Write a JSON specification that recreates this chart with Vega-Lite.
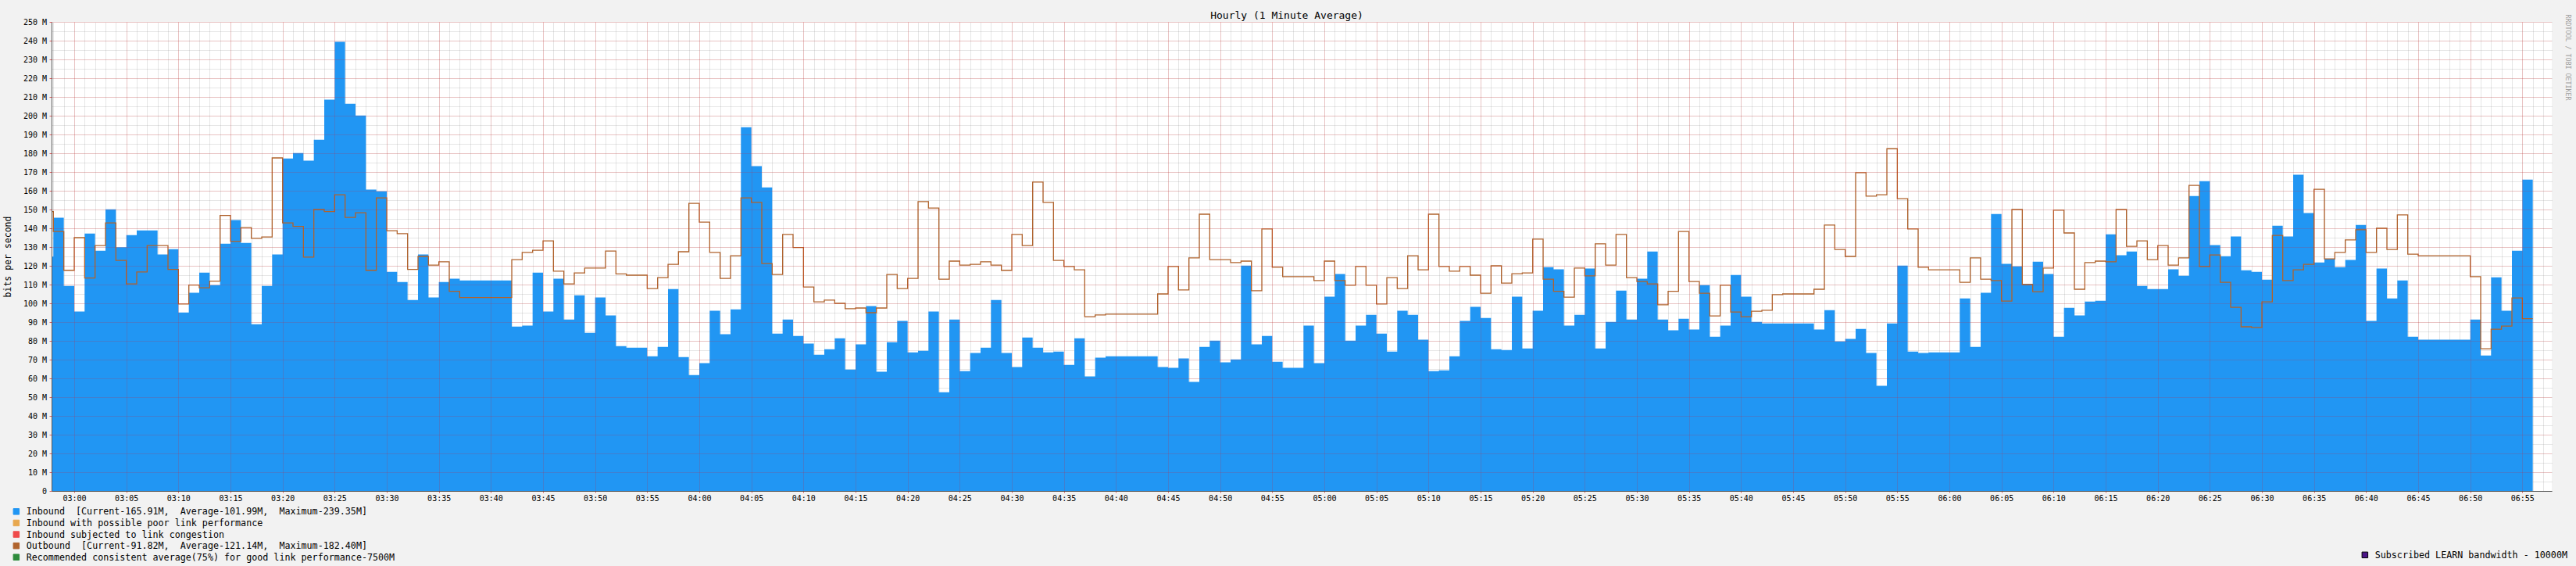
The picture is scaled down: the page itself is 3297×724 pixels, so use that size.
{
 "$schema": "https://vega.github.io/schema/vega-lite/v6.json",
 "width": 3200, "height": 600,
 "autosize": {"type": "none"},
 "padding": {"left": 66, "top": 28, "right": 31, "bottom": 96},
 "background": "#f2f2f2",
 "config": {"view": {"fill": "#ffffff", "stroke": null}, "font": "DejaVu Sans Mono"},
 "title": {"text": "Hourly (1 Minute Average)", "font": "DejaVu Sans Mono", "fontSize": 13, "fontWeight": "normal", "color": "#000000", "anchor": "middle", "frame": "group", "offset": 5, "baseline": "alphabetic", "dx": -19, "dy": 24},
 "data": {"values": [
  {"t":"2024-01-01T02:57","i":124.9,"o":148.9},
  {"t":"2024-01-01T02:58","i":145.6,"o":138.3},
  {"t":"2024-01-01T02:59","i":109.3,"o":117.6},
  {"t":"2024-01-01T03:00","i":95.6,"o":135.0},
  {"t":"2024-01-01T03:01","i":137.2,"o":113.5},
  {"t":"2024-01-01T03:02","i":128.0,"o":130.8},
  {"t":"2024-01-01T03:03","i":150.1,"o":142.9},
  {"t":"2024-01-01T03:04","i":129.9,"o":122.9},
  {"t":"2024-01-01T03:05","i":136.4,"o":110.4},
  {"t":"2024-01-01T03:06","i":138.9,"o":116.7},
  {"t":"2024-01-01T03:07","i":138.9,"o":130.8},
  {"t":"2024-01-01T03:08","i":126.0,"o":130.8},
  {"t":"2024-01-01T03:09","i":128.9,"o":118.1},
  {"t":"2024-01-01T03:10","i":95.1,"o":99.6},
  {"t":"2024-01-01T03:11","i":105.6,"o":109.7},
  {"t":"2024-01-01T03:12","i":116.4,"o":108.3},
  {"t":"2024-01-01T03:13","i":109.7,"o":111.8},
  {"t":"2024-01-01T03:14","i":131.8,"o":146.8},
  {"t":"2024-01-01T03:15","i":144.4,"o":133.1},
  {"t":"2024-01-01T03:16","i":132.2,"o":140.4},
  {"t":"2024-01-01T03:17","i":88.9,"o":134.6},
  {"t":"2024-01-01T03:18","i":109.3,"o":135.4},
  {"t":"2024-01-01T03:19","i":126.0,"o":177.5},
  {"t":"2024-01-01T03:20","i":177.2,"o":142.9},
  {"t":"2024-01-01T03:21","i":180.1,"o":141.0},
  {"t":"2024-01-01T03:22","i":176.0,"o":124.6},
  {"t":"2024-01-01T03:23","i":187.2,"o":150.0},
  {"t":"2024-01-01T03:24","i":208.5,"o":148.9},
  {"t":"2024-01-01T03:25","i":239.35,"o":157.9},
  {"t":"2024-01-01T03:26","i":206.4,"o":145.8},
  {"t":"2024-01-01T03:27","i":200.1,"o":148.3},
  {"t":"2024-01-01T03:28","i":160.6,"o":117.6},
  {"t":"2024-01-01T03:29","i":159.7,"o":156.2},
  {"t":"2024-01-01T03:30","i":116.8,"o":138.7},
  {"t":"2024-01-01T03:31","i":111.4,"o":137.1},
  {"t":"2024-01-01T03:32","i":101.8,"o":118.1},
  {"t":"2024-01-01T03:33","i":126.0,"o":125.0},
  {"t":"2024-01-01T03:34","i":103.1,"o":120.4},
  {"t":"2024-01-01T03:35","i":111.4,"o":122.1},
  {"t":"2024-01-01T03:36","i":113.1,"o":106.4},
  {"t":"2024-01-01T03:37","i":112.2,"o":103.1},
  {"t":"2024-01-01T03:38","i":112.2,"o":103.1},
  {"t":"2024-01-01T03:39","i":112.2,"o":103.1},
  {"t":"2024-01-01T03:40","i":112.2,"o":103.1},
  {"t":"2024-01-01T03:41","i":112.2,"o":103.1},
  {"t":"2024-01-01T03:42","i":87.6,"o":123.3},
  {"t":"2024-01-01T03:43","i":88.1,"o":127.1},
  {"t":"2024-01-01T03:44","i":116.4,"o":128.3},
  {"t":"2024-01-01T03:45","i":95.6,"o":133.3},
  {"t":"2024-01-01T03:46","i":113.1,"o":117.1},
  {"t":"2024-01-01T03:47","i":91.4,"o":110.4},
  {"t":"2024-01-01T03:48","i":104.3,"o":116.2},
  {"t":"2024-01-01T03:49","i":84.3,"o":118.8},
  {"t":"2024-01-01T03:50","i":103.1,"o":118.8},
  {"t":"2024-01-01T03:51","i":93.5,"o":127.9},
  {"t":"2024-01-01T03:52","i":77.2,"o":115.7},
  {"t":"2024-01-01T03:53","i":76.4,"o":115.0},
  {"t":"2024-01-01T03:54","i":76.4,"o":115.0},
  {"t":"2024-01-01T03:55","i":71.8,"o":107.9},
  {"t":"2024-01-01T03:56","i":76.8,"o":113.7},
  {"t":"2024-01-01T03:57","i":107.6,"o":120.8},
  {"t":"2024-01-01T03:58","i":71.4,"o":127.5},
  {"t":"2024-01-01T03:59","i":61.8,"o":153.3},
  {"t":"2024-01-01T04:00","i":68.1,"o":143.3},
  {"t":"2024-01-01T04:01","i":96.0,"o":127.1},
  {"t":"2024-01-01T04:02","i":83.5,"o":113.3},
  {"t":"2024-01-01T04:03","i":96.8,"o":125.4},
  {"t":"2024-01-01T04:04","i":193.9,"o":156.2},
  {"t":"2024-01-01T04:05","i":173.1,"o":153.8},
  {"t":"2024-01-01T04:06","i":161.8,"o":121.2},
  {"t":"2024-01-01T04:07","i":83.9,"o":115.4},
  {"t":"2024-01-01T04:08","i":91.4,"o":136.7},
  {"t":"2024-01-01T04:09","i":82.6,"o":129.7},
  {"t":"2024-01-01T04:10","i":78.5,"o":108.7},
  {"t":"2024-01-01T04:11","i":72.6,"o":100.8},
  {"t":"2024-01-01T04:12","i":75.5,"o":101.7},
  {"t":"2024-01-01T04:13","i":81.4,"o":100.0},
  {"t":"2024-01-01T04:14","i":64.7,"o":97.1},
  {"t":"2024-01-01T04:15","i":78.1,"o":97.5},
  {"t":"2024-01-01T04:16","i":98.5,"o":95.0},
  {"t":"2024-01-01T04:17","i":63.5,"o":97.5},
  {"t":"2024-01-01T04:18","i":79.3,"o":115.4},
  {"t":"2024-01-01T04:19","i":90.6,"o":107.9},
  {"t":"2024-01-01T04:20","i":73.9,"o":113.3},
  {"t":"2024-01-01T04:21","i":74.7,"o":154.2},
  {"t":"2024-01-01T04:22","i":95.6,"o":150.8},
  {"t":"2024-01-01T04:23","i":52.6,"o":112.9},
  {"t":"2024-01-01T04:24","i":91.4,"o":122.5},
  {"t":"2024-01-01T04:25","i":63.9,"o":120.4},
  {"t":"2024-01-01T04:26","i":73.5,"o":120.8},
  {"t":"2024-01-01T04:27","i":76.4,"o":122.1},
  {"t":"2024-01-01T04:28","i":101.8,"o":120.4},
  {"t":"2024-01-01T04:29","i":73.5,"o":117.6},
  {"t":"2024-01-01T04:30","i":66.0,"o":136.7},
  {"t":"2024-01-01T04:31","i":81.8,"o":130.8},
  {"t":"2024-01-01T04:32","i":76.4,"o":164.6},
  {"t":"2024-01-01T04:33","i":73.9,"o":153.8},
  {"t":"2024-01-01T04:34","i":74.3,"o":122.9},
  {"t":"2024-01-01T04:35","i":67.2,"o":119.6},
  {"t":"2024-01-01T04:36","i":81.4,"o":117.9},
  {"t":"2024-01-01T04:37","i":61.0,"o":92.9},
  {"t":"2024-01-01T04:38","i":71.0,"o":93.8},
  {"t":"2024-01-01T04:39","i":71.8,"o":94.2},
  {"t":"2024-01-01T04:40","i":71.8,"o":94.2},
  {"t":"2024-01-01T04:41","i":71.8,"o":94.2},
  {"t":"2024-01-01T04:42","i":71.8,"o":94.2},
  {"t":"2024-01-01T04:43","i":71.8,"o":94.2},
  {"t":"2024-01-01T04:44","i":66.0,"o":105.0},
  {"t":"2024-01-01T04:45","i":65.6,"o":119.6},
  {"t":"2024-01-01T04:46","i":70.6,"o":107.1},
  {"t":"2024-01-01T04:47","i":58.1,"o":124.2},
  {"t":"2024-01-01T04:48","i":76.8,"o":147.5},
  {"t":"2024-01-01T04:49","i":80.1,"o":123.3},
  {"t":"2024-01-01T04:50","i":68.5,"o":123.3},
  {"t":"2024-01-01T04:51","i":70.1,"o":121.7},
  {"t":"2024-01-01T04:52","i":120.1,"o":122.5},
  {"t":"2024-01-01T04:53","i":78.1,"o":106.7},
  {"t":"2024-01-01T04:54","i":82.6,"o":139.6},
  {"t":"2024-01-01T04:55","i":68.9,"o":119.2},
  {"t":"2024-01-01T04:56","i":65.6,"o":114.2},
  {"t":"2024-01-01T04:57","i":65.6,"o":114.2},
  {"t":"2024-01-01T04:58","i":88.1,"o":114.2},
  {"t":"2024-01-01T04:59","i":68.1,"o":112.1},
  {"t":"2024-01-01T05:00","i":103.5,"o":122.5},
  {"t":"2024-01-01T05:01","i":115.6,"o":112.1},
  {"t":"2024-01-01T05:02","i":80.1,"o":109.6},
  {"t":"2024-01-01T05:03","i":88.1,"o":119.6},
  {"t":"2024-01-01T05:04","i":93.9,"o":109.6},
  {"t":"2024-01-01T05:05","i":83.9,"o":99.6},
  {"t":"2024-01-01T05:06","i":74.3,"o":113.7},
  {"t":"2024-01-01T05:07","i":96.0,"o":107.9},
  {"t":"2024-01-01T05:08","i":93.9,"o":125.4},
  {"t":"2024-01-01T05:09","i":80.6,"o":117.9},
  {"t":"2024-01-01T05:10","i":63.9,"o":147.5},
  {"t":"2024-01-01T05:11","i":64.3,"o":119.6},
  {"t":"2024-01-01T05:12","i":71.8,"o":117.1},
  {"t":"2024-01-01T05:13","i":90.6,"o":119.6},
  {"t":"2024-01-01T05:14","i":98.1,"o":115.0},
  {"t":"2024-01-01T05:15","i":92.2,"o":105.4},
  {"t":"2024-01-01T05:16","i":75.5,"o":120.0},
  {"t":"2024-01-01T05:17","i":75.1,"o":110.8},
  {"t":"2024-01-01T05:18","i":103.5,"o":115.8},
  {"t":"2024-01-01T05:19","i":75.9,"o":116.2},
  {"t":"2024-01-01T05:20","i":96.0,"o":134.2},
  {"t":"2024-01-01T05:21","i":119.3,"o":112.9},
  {"t":"2024-01-01T05:22","i":118.1,"o":106.4},
  {"t":"2024-01-01T05:23","i":88.1,"o":103.3},
  {"t":"2024-01-01T05:24","i":93.9,"o":118.8},
  {"t":"2024-01-01T05:25","i":118.5,"o":114.6},
  {"t":"2024-01-01T05:26","i":75.9,"o":131.7},
  {"t":"2024-01-01T05:27","i":90.1,"o":120.4},
  {"t":"2024-01-01T05:28","i":106.8,"o":136.7},
  {"t":"2024-01-01T05:29","i":91.4,"o":113.7},
  {"t":"2024-01-01T05:30","i":113.1,"o":111.6},
  {"t":"2024-01-01T05:31","i":127.6,"o":110.4},
  {"t":"2024-01-01T05:32","i":91.4,"o":99.2},
  {"t":"2024-01-01T05:33","i":85.6,"o":106.4},
  {"t":"2024-01-01T05:34","i":91.8,"o":138.3},
  {"t":"2024-01-01T05:35","i":86.0,"o":111.6},
  {"t":"2024-01-01T05:36","i":109.7,"o":105.4},
  {"t":"2024-01-01T05:37","i":82.2,"o":93.3},
  {"t":"2024-01-01T05:38","i":88.1,"o":109.6},
  {"t":"2024-01-01T05:39","i":115.1,"o":95.4},
  {"t":"2024-01-01T05:40","i":103.5,"o":92.9},
  {"t":"2024-01-01T05:41","i":90.1,"o":95.8},
  {"t":"2024-01-01T05:42","i":89.3,"o":96.3},
  {"t":"2024-01-01T05:43","i":89.3,"o":104.6},
  {"t":"2024-01-01T05:44","i":89.3,"o":105.0},
  {"t":"2024-01-01T05:45","i":89.3,"o":105.0},
  {"t":"2024-01-01T05:46","i":89.3,"o":105.0},
  {"t":"2024-01-01T05:47","i":86.0,"o":107.5},
  {"t":"2024-01-01T05:48","i":96.4,"o":141.7},
  {"t":"2024-01-01T05:49","i":79.7,"o":128.7},
  {"t":"2024-01-01T05:50","i":81.0,"o":125.0},
  {"t":"2024-01-01T05:51","i":86.4,"o":169.6},
  {"t":"2024-01-01T05:52","i":73.5,"o":157.1},
  {"t":"2024-01-01T05:53","i":56.0,"o":157.9},
  {"t":"2024-01-01T05:54","i":89.3,"o":182.4},
  {"t":"2024-01-01T05:55","i":120.1,"o":155.8},
  {"t":"2024-01-01T05:56","i":74.3,"o":139.6},
  {"t":"2024-01-01T05:57","i":73.5,"o":119.2},
  {"t":"2024-01-01T05:58","i":73.9,"o":117.9},
  {"t":"2024-01-01T05:59","i":73.9,"o":117.9},
  {"t":"2024-01-01T06:00","i":73.9,"o":117.9},
  {"t":"2024-01-01T06:01","i":102.6,"o":111.2},
  {"t":"2024-01-01T06:02","i":76.8,"o":124.2},
  {"t":"2024-01-01T06:03","i":105.6,"o":112.9},
  {"t":"2024-01-01T06:04","i":147.6,"o":112.1},
  {"t":"2024-01-01T06:05","i":121.0,"o":101.2},
  {"t":"2024-01-01T06:06","i":119.7,"o":150.0},
  {"t":"2024-01-01T06:07","i":110.4,"o":110.0},
  {"t":"2024-01-01T06:08","i":122.2,"o":106.2},
  {"t":"2024-01-01T06:09","i":115.6,"o":118.8},
  {"t":"2024-01-01T06:10","i":82.2,"o":149.6},
  {"t":"2024-01-01T06:11","i":97.6,"o":137.5},
  {"t":"2024-01-01T06:12","i":93.5,"o":107.5},
  {"t":"2024-01-01T06:13","i":100.9,"o":121.7},
  {"t":"2024-01-01T06:14","i":101.4,"o":122.5},
  {"t":"2024-01-01T06:15","i":136.8,"o":122.1},
  {"t":"2024-01-01T06:16","i":125.6,"o":150.0},
  {"t":"2024-01-01T06:17","i":127.6,"o":130.4},
  {"t":"2024-01-01T06:18","i":109.3,"o":133.3},
  {"t":"2024-01-01T06:19","i":107.6,"o":123.3},
  {"t":"2024-01-01T06:20","i":107.6,"o":130.8},
  {"t":"2024-01-01T06:21","i":118.1,"o":120.4},
  {"t":"2024-01-01T06:22","i":114.7,"o":124.2},
  {"t":"2024-01-01T06:23","i":157.2,"o":162.9},
  {"t":"2024-01-01T06:24","i":165.1,"o":119.6},
  {"t":"2024-01-01T06:25","i":131.0,"o":125.8},
  {"t":"2024-01-01T06:26","i":125.1,"o":111.2},
  {"t":"2024-01-01T06:27","i":135.6,"o":97.9},
  {"t":"2024-01-01T06:28","i":117.6,"o":87.5},
  {"t":"2024-01-01T06:29","i":116.8,"o":87.1},
  {"t":"2024-01-01T06:30","i":112.6,"o":100.8},
  {"t":"2024-01-01T06:31","i":141.4,"o":136.2},
  {"t":"2024-01-01T06:32","i":135.6,"o":112.1},
  {"t":"2024-01-01T06:33","i":168.5,"o":117.9},
  {"t":"2024-01-01T06:34","i":148.1,"o":120.8},
  {"t":"2024-01-01T06:35","i":121.8,"o":160.8},
  {"t":"2024-01-01T06:36","i":123.7,"o":123.7},
  {"t":"2024-01-01T06:37","i":119.3,"o":127.1},
  {"t":"2024-01-01T06:38","i":123.1,"o":133.8},
  {"t":"2024-01-01T06:39","i":141.8,"o":139.2},
  {"t":"2024-01-01T06:40","i":90.6,"o":127.1},
  {"t":"2024-01-01T06:41","i":118.5,"o":140.0},
  {"t":"2024-01-01T06:42","i":102.6,"o":128.7},
  {"t":"2024-01-01T06:43","i":112.2,"o":147.1},
  {"t":"2024-01-01T06:44","i":82.2,"o":126.2},
  {"t":"2024-01-01T06:45","i":80.6,"o":125.4},
  {"t":"2024-01-01T06:46","i":80.6,"o":125.4},
  {"t":"2024-01-01T06:47","i":80.6,"o":125.4},
  {"t":"2024-01-01T06:48","i":80.6,"o":125.4},
  {"t":"2024-01-01T06:49","i":80.6,"o":125.4},
  {"t":"2024-01-01T06:50","i":91.4,"o":114.2},
  {"t":"2024-01-01T06:51","i":72.2,"o":75.8},
  {"t":"2024-01-01T06:52","i":113.9,"o":86.2},
  {"t":"2024-01-01T06:53","i":96.0,"o":87.9},
  {"t":"2024-01-01T06:54","i":128.0,"o":102.9},
  {"t":"2024-01-01T06:55","i":165.91,"o":91.82},
  {"t":"2024-01-01T06:56","i":165.91,"o":91.82}
 ]},
 "layer": [
  {"layer": [
   {"mark": {"type": "area", "interpolate": "step-after", "clip": true, "opacity": 1},
    "encoding": {
     "x": {"field": "t", "type": "temporal", "title": null,
      "scale": {"domain": [{"year": 2024, "month": 1, "date": 1, "hours": 2, "minutes": 57, "seconds": 49, "milliseconds": 500}, {"year": 2024, "month": 1, "date": 1, "hours": 6, "minutes": 57, "seconds": 49, "milliseconds": 500}]},
      "axis": {"format": "%H:%M", "tickCount": 48, "zindex": 2, "labelOverlap": false, "labelFlush": false,
       "labelFont": "DejaVu Sans Mono", "labelFontSize": 10, "labelColor": "#000000", "labelPadding": 2,
       "grid": true, "gridDash": [1, 1], "gridColor": "#ff0000", "gridOpacity": 0.3,
       "tickSize": 2, "tickColor": "#e06060", "domainColor": "#555555"}},
     "y": {"field": "i", "type": "quantitative", "title": "bits per second",
      "scale": {"domain": [0, 250], "nice": false},
      "axis": {"values": [0,10,20,30,40,50,60,70,80,90,100,110,120,130,140,150,160,170,180,190,200,210,220,230,240,250],
       "tickCount": 60, "zindex": 2, "labelOverlap": false, "labelBound": false, "labelFlush": false,
       "labelExpr": "datum.value == 0 ? '0' : datum.value + ' M'",
       "labelFont": "DejaVu Sans Mono", "labelFontSize": 10, "labelColor": "#000000", "labelPadding": 3.5,
       "grid": true, "gridDash": [1, 1], "gridColor": "#ff0000", "gridOpacity": 0.3,
       "tickSize": 3, "tickColor": "#e06060", "domainColor": "#555555",
       "titleFont": "DejaVu Sans Mono", "titleFontSize": 11.5, "titleFontWeight": "normal", "titleColor": "#000000", "titlePadding": 14}},
     "color": {"datum": "Inbound\u00a0\u00a0[Current-165.91M,\u00a0\u00a0Average-101.99M,\u00a0\u00a0Maximum-239.35M]", "type": "nominal",
      "scale": {"domain": [
        "Inbound\u00a0\u00a0[Current-165.91M,\u00a0\u00a0Average-101.99M,\u00a0\u00a0Maximum-239.35M]",
        "Inbound with possible poor link performance",
        "Inbound subjected to link congestion",
        "Outbound\u00a0\u00a0[Current-91.82M,\u00a0\u00a0Average-121.14M,\u00a0\u00a0Maximum-182.40M]",
        "Recommended consistent average(75%) for good link performance-7500M"],
       "range": ["#2196f3", "#e8a84f", "#ef4b4b", "#b0632d", "#2e8b3c"]},
      "legend": {"orient": "none", "legendX": -51, "legendY": 620.5, "direction": "vertical", "title": null,
       "symbolType": "square", "symbolSize": 56, "symbolStrokeWidth": 1, "symbolStrokeColor": "#000000",
       "labelFont": "DejaVu Sans Mono", "labelFontSize": 11.7, "labelColor": "#000000", "labelOffset": 7, "labelLimit": 2000,
       "rowPadding": 1.6, "padding": 0, "symbolOffset": 0}}
    }},
   {"mark": {"type": "line", "interpolate": "step-after", "clip": true, "strokeWidth": 1.3},
    "encoding": {
     "x": {"field": "t", "type": "temporal", "title": null},
     "y": {"field": "o", "type": "quantitative", "title": "bits per second"},
     "color": {"datum": "Outbound\u00a0\u00a0[Current-91.82M,\u00a0\u00a0Average-121.14M,\u00a0\u00a0Maximum-182.40M]", "type": "nominal"}
    }}
  ]},
  {"data": {"values": [{"v": 10000}]},
   "mark": {"type": "rect", "clip": true},
   "encoding": {
    "x": {"datum": {"year": 2024, "month": 1, "date": 1, "hours": 3, "minutes": 0}, "type": "temporal", "title": null,
     "scale": {"domain": [{"year": 2024, "month": 1, "date": 1, "hours": 2, "minutes": 57, "seconds": 49, "milliseconds": 500}, {"year": 2024, "month": 1, "date": 1, "hours": 6, "minutes": 57, "seconds": 49, "milliseconds": 500}]},
     "axis": {"orient": "top", "tickCount": 240, "labels": false, "ticks": false, "domain": false, "title": null,
      "grid": true, "gridDash": [1, 1], "gridColor": "#909090", "gridOpacity": 0.45, "zindex": 0}},
    "x2": {"datum": {"year": 2024, "month": 1, "date": 1, "hours": 3, "minutes": 1}},
    "y": {"field": "v", "type": "quantitative", "scale": {"domain": [0, 250], "nice": false},
     "axis": {"orient": "right", "values": [0,5,10,15,20,25,30,35,40,45,50,55,60,65,70,75,80,85,90,95,100,105,110,115,120,125,130,135,140,145,150,155,160,165,170,175,180,185,190,195,200,205,210,215,220,225,230,235,240,245,250],
      "tickCount": 60, "labels": false, "ticks": false, "domain": false, "zindex": 0,
      "grid": true, "gridDash": [1, 1], "gridColor": "#909090", "gridOpacity": 0.45,
      "title": "RRDTOOL / TOBI OETIKER", "titleAngle": 90, "titleAlign": "left", "titleBaseline": "alphabetic",
      "titleX": 17, "titleY": -10, "titleFont": "DejaVu Sans Mono", "titleFontSize": 8.3, "titleFontWeight": "normal", "titleColor": "#a0a0a0"}},
    "y2": {"field": "v"},
    "fill": {"datum": "Subscribed LEARN bandwidth - 10000M", "type": "nominal",
     "scale": {"range": ["#4a1486"]},
     "legend": {"orient": "none", "legendX": 2955, "legendY": 676, "title": null,
      "symbolType": "square", "symbolSize": 56, "symbolStrokeWidth": 1, "symbolStrokeColor": "#000000",
      "labelFont": "DejaVu Sans Mono", "labelFontSize": 11.7, "labelColor": "#000000", "labelOffset": 7, "labelLimit": 2000,
      "padding": 0, "symbolOffset": 0}}
   }}
 ],
 "resolve": {"scale": {"x": "independent", "y": "independent"}}
}
